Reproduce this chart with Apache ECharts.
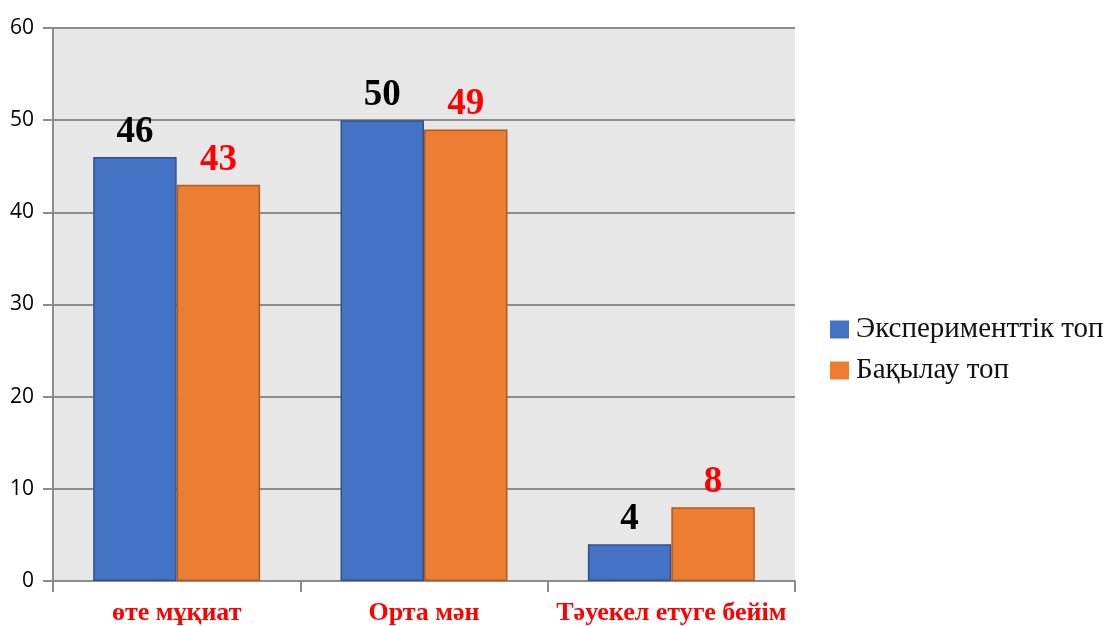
<!DOCTYPE html>
<html><head><meta charset="utf-8">
<script src="https://cdn.jsdelivr.net/npm/echarts@6/dist/echarts.min.js"></script>
<style>html,body{margin:0;padding:0;background:#fff}#c{width:1116px;height:626px}</style>
</head><body><div id="c"></div>
<script>
const categories = ['өте мұқиат', 'Орта мән', 'Тәуекел етуге бейім'];
const expValues = [46, 50, 4];
const ctrlValues = [43, 49, 8];
const seriesNames = ['Эксперименттік топ', 'Бақылау топ'];

const chart = echarts.init(document.getElementById('c'));
chart.setOption({
  animation: false,
  backgroundColor: '#ffffff',
  grid: {left: 53, right: 321, top: 28, bottom: 45, show: true, backgroundColor: '#e7e7e7', borderWidth: 0},
  legend: {
    orient: 'vertical', left: 825, top: 310,
    itemWidth: 19, itemHeight: 18, itemGap: 12,
    icon: 'rect',
    itemStyle: {borderWidth: 0},
    textStyle: {fontFamily: 'Liberation Serif', fontSize: 29, color: '#111', padding: [0,0,0,2]},
    data: seriesNames
  },
  xAxis: {
    type: 'category', data: categories,
    axisLine: {lineStyle: {color: '#8c8c8c', width: 2}},
    axisTick: {show: true, interval: 0, length: 11, lineStyle: {color: '#8c8c8c', width: 2}},
    axisLabel: {interval: 0, color: '#ff0000', fontFamily: 'Liberation Serif', fontWeight: 'bold', fontSize: 26, margin: 19}
  },
  yAxis: {
    type: 'value', min: 0, max: 60, interval: 10,
    axisLine: {show: true, lineStyle: {color: '#8c8c8c', width: 2}},
    axisTick: {show: true, inside: false, length: 10, lineStyle: {color: '#8c8c8c', width: 2}},
    splitLine: {lineStyle: {color: '#8c8c8c', width: 2}},
    axisLabel: {color: '#000', fontFamily: 'Open Sans', fontSize: 21, margin: 19}
  },
  series: [
    {name: seriesNames[0], type: 'bar', data: expValues, barCategoryGap: '32.5%', barGap: '0%',
     itemStyle: {color: '#4472c4', borderColor: '#2f528f', borderWidth: 1.5},
     label: {show: true, position: 'top', distance: 6, color: '#000', fontFamily: 'Liberation Serif', fontWeight: 'bold', fontSize: 37}},
    {name: seriesNames[1], type: 'bar', data: ctrlValues, barCategoryGap: '32.5%', barGap: '0%',
     itemStyle: {color: '#ed7d31', borderColor: '#ae5a21', borderWidth: 1.5},
     label: {show: true, position: 'top', distance: 6, color: '#ff0000', fontFamily: 'Liberation Serif', fontWeight: 'bold', fontSize: 37}}
  ]
});
</script></body></html>
